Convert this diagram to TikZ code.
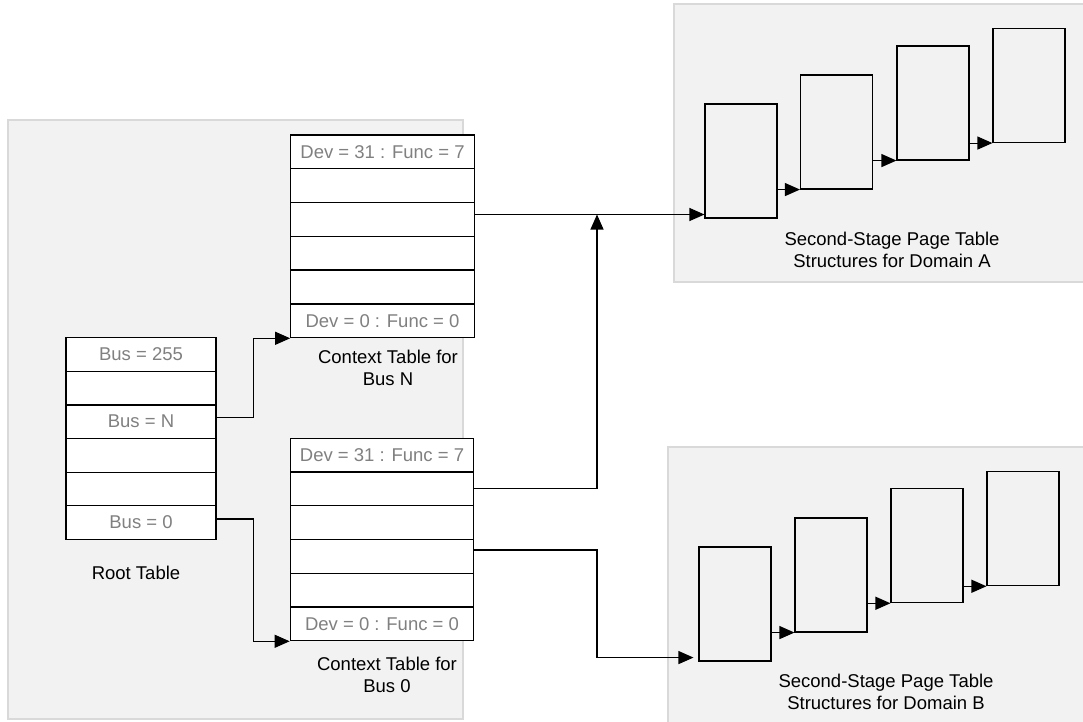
\documentclass[tikz,border=0pt]{standalone}
\usepackage{fontspec}
\setmainfont{Liberation Sans}
\usetikzlibrary{arrows.meta,calc}
\definecolor{panelfill}{HTML}{F2F2F2}
\definecolor{paneldraw}{HTML}{D9D9D9}
\definecolor{celltext}{HTML}{808080}
\begin{document}
\begin{tikzpicture}[x=1pt,y=-1pt,
  txt/.style={font=\fontsize{18.5}{21.5}\selectfont},
  panel/.style={fill=panelfill,draw=paneldraw,line width=1.5pt},
  rootcell/.style={txt,draw=black,fill=white,line width=1.2pt,minimum width=150pt,minimum height=33.6pt,inner sep=0pt,text=celltext},
  ctxcell/.style={rootcell,minimum width=183.5pt,minimum height=33.75pt},
  page/.style={draw=black,line width=1.1pt,minimum width=72pt,minimum height=114pt,inner sep=0pt},
  lbl/.style={txt,align=center,inner sep=0pt},
  conn/.style={draw=black,line width=1.1pt,-{Triangle[length=15pt,width=13pt]}}
]
\useasboundingbox (0,0) rectangle (1083,721);
% panels
\path[panel] (8,120) rectangle (463,719);
\path[panel] (674,4) rectangle (1090,282);
\path[panel] (668,447) rectangle (1090,730);

% root table
\node[rootcell] (r1) at (141,354.5) {Bus = 255};
\node[rootcell] (r2) at (141,388.1) {};
\node[rootcell] (r3) at (141,421.7) {Bus = N};
\node[rootcell] (r4) at (141,455.3) {};
\node[rootcell] (r5) at (141,488.9) {};
\node[rootcell] (r6) at (141,522.5) {Bus = 0};
\node[lbl] (rlbl) at (136,573) {Root Table};

% context table bus N
\node[ctxcell] (n1) at (382.5,151.9) {Dev = 31 : Func = 7};
\node[ctxcell] (n2) at (382.5,185.7) {};
\node[ctxcell] (n3) at (382.5,219.5) {};
\node[ctxcell] (n4) at (382.5,253.2) {};
\node[ctxcell] (n5) at (382.5,287.0) {};
\node[ctxcell] (n6) at (382.5,320.8) {Dev = 0 : Func = 0};
\node[lbl] (nlbl) at (388,368) {Context Table for\\Bus N};

% context table bus 0
\node[ctxcell] (z1) at (382,455.2) {\raisebox{-3pt}{Dev = 31 : Func = 7}};
\node[ctxcell] (z2) at (382,488.9) {};
\node[ctxcell] (z3) at (382,522.6) {};
\node[ctxcell] (z4) at (382,556.4) {};
\node[ctxcell] (z5) at (382,590.1) {};
\node[ctxcell] (z6) at (382,623.8) {\raisebox{-3pt}{Dev = 0 : Func = 0}};
\node[lbl] (zlbl) at (387,675) {Context Table for\\Bus 0};

% domain A pages
\node[page] (a1) at (741,161) {};
\node[page] (a2) at (836.5,132) {};
\node[page] (a3) at (933,103) {};
\node[page] (a4) at (1029,85.5) {};
\node[lbl] (albl) at (892,250) {Second-Stage Page Table\\Structures for Domain A};

% domain B pages
\node[page] (b1) at (735,604) {};
\node[page] (b2) at (831,575) {};
\node[page] (b3) at (927,545.7) {};
\node[page] (b4) at (1023,528.7) {};
\node[lbl] (blbl) at (886,692) {Second-Stage Page Table\\Structures for Domain B};

% junctions
\coordinate (jA) at (597,214.5);
\coordinate (jB) at (597,550);

% connectors
\draw[conn] ([yshift=4.5pt]r3.east) -- ++(37,0) |- (n6.south west);
\draw[conn] ([yshift=3.5pt]r6.east) -- ++(37,0) |- (z6.south west);
\draw[conn] (n3.east |- jA) -- (a1.west |- jA);
\draw[conn] (z2.east) -| (jA);
\draw[conn,shorten >=5pt] (z4.east |- jB) -- (jB) |- ([yshift=4pt]b1.south west);

\draw[conn] (a1.east |- a2.south west) -- (a2.south west);
\draw[conn] (a2.east |- a3.south west) -- (a3.south west);
\draw[conn] (a3.east |- a4.south west) -- (a4.south west);
\draw[conn] (b1.east |- b2.south west) -- (b2.south west);
\draw[conn] (b2.east |- b3.south west) -- (b3.south west);
\draw[conn] (b3.east |- b4.south west) -- (b4.south west);
\end{tikzpicture}
\end{document}
